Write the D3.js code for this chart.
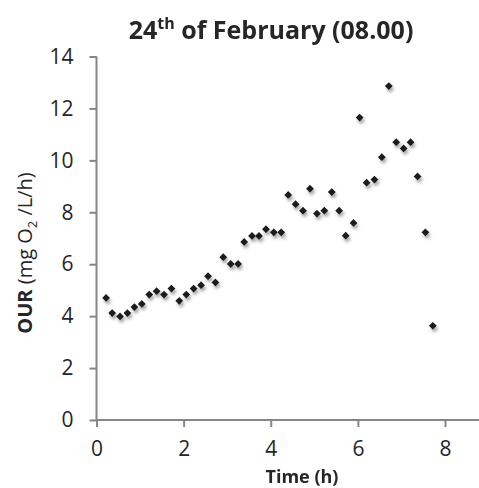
<!DOCTYPE html>
<html>
<head>
<meta charset="utf-8">
<script src="https://cdn.jsdelivr.net/npm/d3@7/dist/d3.min.js"></script>
<style>
  html, body { margin: 0; padding: 0; background: #fff; }
  svg { display: block; }
  text { font-family: "Open Sans", "DejaVu Sans", sans-serif; fill: #262626; }
</style>
</head>
<body>
<svg id="chart" width="479" height="488"></svg>
<script>
// Oxygen uptake rate measured through the run
const timeHours = [0.22, 0.36, 0.54, 0.71, 0.87, 1.04, 1.21, 1.38, 1.55, 1.72,
                   1.90, 2.06, 2.23, 2.40, 2.56, 2.73, 2.91, 3.08, 3.25, 3.39,
                   3.57, 3.73, 3.89, 4.07, 4.24, 4.40, 4.57, 4.74, 4.90, 5.06,
                   5.23, 5.40, 5.57, 5.72, 5.90, 6.04, 6.20, 6.38, 6.55, 6.71,
                   6.88, 7.05, 7.21, 7.37, 7.55, 7.72];
const ourValues = [4.70, 4.12, 3.99, 4.12, 4.35, 4.47, 4.83, 4.96, 4.83, 5.06,
                   4.59, 4.83, 5.06, 5.19, 5.54, 5.30, 6.27, 6.01, 6.01, 6.86,
                   7.09, 7.09, 7.35, 7.23, 7.23, 8.67, 8.31, 8.06, 8.91, 7.95,
                   8.06, 8.78, 8.06, 7.10, 7.59, 11.65, 9.14, 9.26, 10.12, 12.86,
                   10.70, 10.46, 10.70, 9.38, 7.23, 3.63];
const xTicks = [0, 2, 4, 6, 8];
const yTicks = [0, 2, 4, 6, 8, 10, 12, 14];

const svg = d3.select("#chart");
const axisColor = "#868686";

const x = d3.scaleLinear().domain([0, 8]).range([96.5, 445]);
const y = d3.scaleLinear().domain([0, 14]).range([420, 56.5]);

// drop shadow under the markers
const defs = svg.append("defs");
const f = defs.append("filter").attr("id", "shadow")
  .attr("x", "-100%").attr("y", "-100%").attr("width", "300%").attr("height", "300%");
f.append("feDropShadow").attr("dx", 1.5).attr("dy", 3).attr("stdDeviation", 1.6)
  .attr("flood-color", "#000").attr("flood-opacity", 0.35);

// y axis
const yAxis = svg.append("g").attr("transform", `translate(${x(0)},0)`)
  .call(d3.axisLeft(y).tickValues(yTicks).tickSize(7).tickPadding(16).tickSizeOuter(0));
// x axis
const xAxis = svg.append("g").attr("transform", `translate(0,${y(0)})`)
  .call(d3.axisBottom(x).tickValues(xTicks).tickSize(7).tickPadding(14).tickSizeOuter(0));
// extend x axis line to the right edge
xAxis.select(".domain").attr("d", `M${x(0)},0H479`);

[xAxis, yAxis].forEach(g => {
  g.select(".domain").attr("stroke", axisColor).attr("stroke-width", 2);
  g.selectAll(".tick line").attr("stroke", axisColor).attr("stroke-width", 2);
  g.selectAll(".tick text").attr("font-size", 21).attr("fill", "#262626")
    .style("font-family", "'Open Sans', sans-serif");
});
// 14 tick: axis line begins at tick
yAxis.select(".domain").attr("d", `M0,${y(14)}V${y(0)}`);

// markers
const diamond = d3.symbol().type(d3.symbolSquare).size(30);
svg.append("g").attr("filter", "url(#shadow)")
  .selectAll("path").data(timeHours.map((t, i) => [t, ourValues[i]]))
  .join("path")
  .attr("d", diamond)
  .attr("transform", d => `translate(${x(d[0])},${y(d[1])}) rotate(45)`)
  .attr("fill", "#1a1a1a");

// title
const title = svg.append("text").attr("x", 271).attr("y", 39)
  .attr("text-anchor", "middle").attr("font-size", 25).attr("font-weight", "bold");
title.append("tspan").text("24");
title.append("tspan").text("th").attr("font-size", 16).attr("dy", -10);
title.append("tspan").text(" of February (08.00)").attr("dy", 10);

// x label
svg.append("text").attr("x", 302).attr("y", 483).attr("text-anchor", "middle")
  .attr("font-size", 18).attr("font-weight", "bold").text("Time (h)");

// y label
const yl = svg.append("text").attr("transform", "translate(32,253) rotate(-90)")
  .attr("text-anchor", "middle").attr("font-size", 20);
yl.append("tspan").attr("font-weight", "bold").text("OUR");
yl.append("tspan").text(" (mg O");
yl.append("tspan").text("2").attr("font-size", 13).attr("dy", 5);
yl.append("tspan").text(" /L/h)").attr("dy", -5);
</script>
</body>
</html>
